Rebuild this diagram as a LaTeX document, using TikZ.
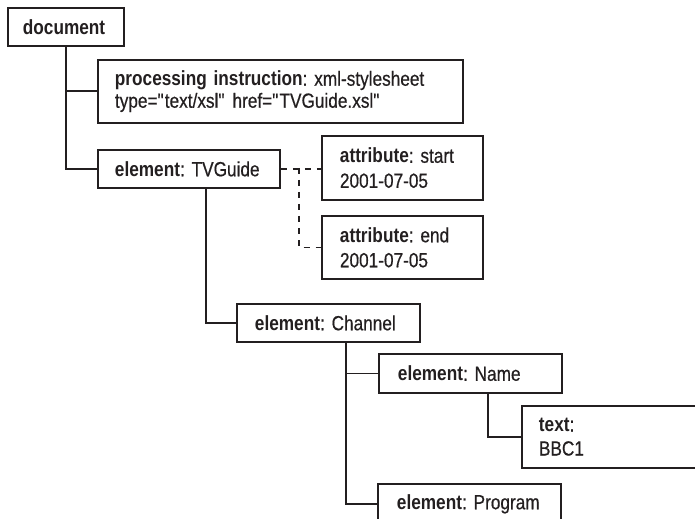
\documentclass[tikz,border=0pt]{standalone}
\usepackage{fontspec}
\setmainfont{Liberation Sans}[FakeStretch=0.84, UprightFeatures={FakeBold=0.5}]
\definecolor{ink}{RGB}{35,31,32}
\newcommand{\oneln}[1]{\mbox{#1}}
\newcommand{\qq}{\textquotedbl}
\tikzset{
  bx/.style={draw=ink, line width=1.9bp, rectangle, anchor=north west,
    inner xsep=17bp, inner ysep=0pt, align=left, text=ink,
    font=\fontsize{20.5bp}{23bp}\selectfont\frenchspacing},
  conn/.style={draw=ink, line width=1.9bp},
  dconn/.style={draw=ink, line width=1.6bp, dash pattern=on 6bp off 6bp}
}
\begin{document}
\begin{tikzpicture}[x=1bp,y=-1bp]
\useasboundingbox[fill=white] (0,0) rectangle (695,519);
\clip (0,0) rectangle (695,519);
\node[bx, inner xsep=15bp, text width=86bp, minimum height=38bp] (doc) at (7,7) {\oneln{\textbf{document}}};
\node[bx, text width=331bp, minimum height=63bp, font=\fontsize{20.5bp}{22bp}\selectfont\frenchspacing] (pi) at (97,59)
  {\oneln{\textbf{processing instruction}: xml-stylesheet}\\\oneln{type=\qq text/xsl\qq{} href=\qq TVGuide.xsl\qq}};
\node[bx, text width=148bp, minimum height=38bp] (tvg) at (97,149) {\oneln{\textbf{element}: TVGuide}};
\node[bx, inner xsep=18bp, text width=125bp, minimum height=64bp, font=\fontsize{20.5bp}{25bp}\selectfont\frenchspacing] (attrS) at (321,135)
  {\oneln{\textbf{attribute}: start}\\\oneln{2001-07-05}};
\node[bx, inner xsep=18bp, text width=125bp, minimum height=63bp, font=\fontsize{20.5bp}{25bp}\selectfont\frenchspacing] (attrE) at (321,215)
  {\oneln{\textbf{attribute}: end}\\\oneln{2001-07-05}};
\node[bx, inner xsep=18bp, text width=147bp, minimum height=38bp] (chan) at (236,303) {\oneln{\textbf{element}: Channel}};
\node[bx, inner xsep=19bp, text width=145bp, minimum height=39bp] (name) at (378,353) {\oneln{\textbf{element}: Name}};
\node[bx, inner xsep=17bp, text width=210bp, minimum height=62bp, font=\fontsize{20.5bp}{24bp}\selectfont\frenchspacing] (txt) at (521,405)
  {\oneln{\textbf{text}:}\\\oneln{BBC1}};
\node[bx, inner xsep=19bp, text width=145bp, minimum height=40bp] (prog) at (377,483) {\oneln{\textbf{element}: Program}};
% tree connectors
\draw[conn] (doc.south) |- (tvg.west);
\draw[conn] (doc.south) |- (pi.west);
\draw[conn] ([xshift=17bp]tvg.south) |- (chan.west);
\draw[conn] ([xshift=17.5bp]chan.south) |- (name.west);
\draw[conn] ([xshift=17.5bp]chan.south) |- (prog.west);
\draw[conn] ([xshift=17.5bp]name.south) |- (txt.west);
% attribute connectors (dashed)
\coordinate (j) at (299,168);
\draw[dconn] (tvg.east) -- (tvg.east -| attrS.west);
\draw[dconn] (j) |- (attrE.west);
\end{tikzpicture}
\end{document}
